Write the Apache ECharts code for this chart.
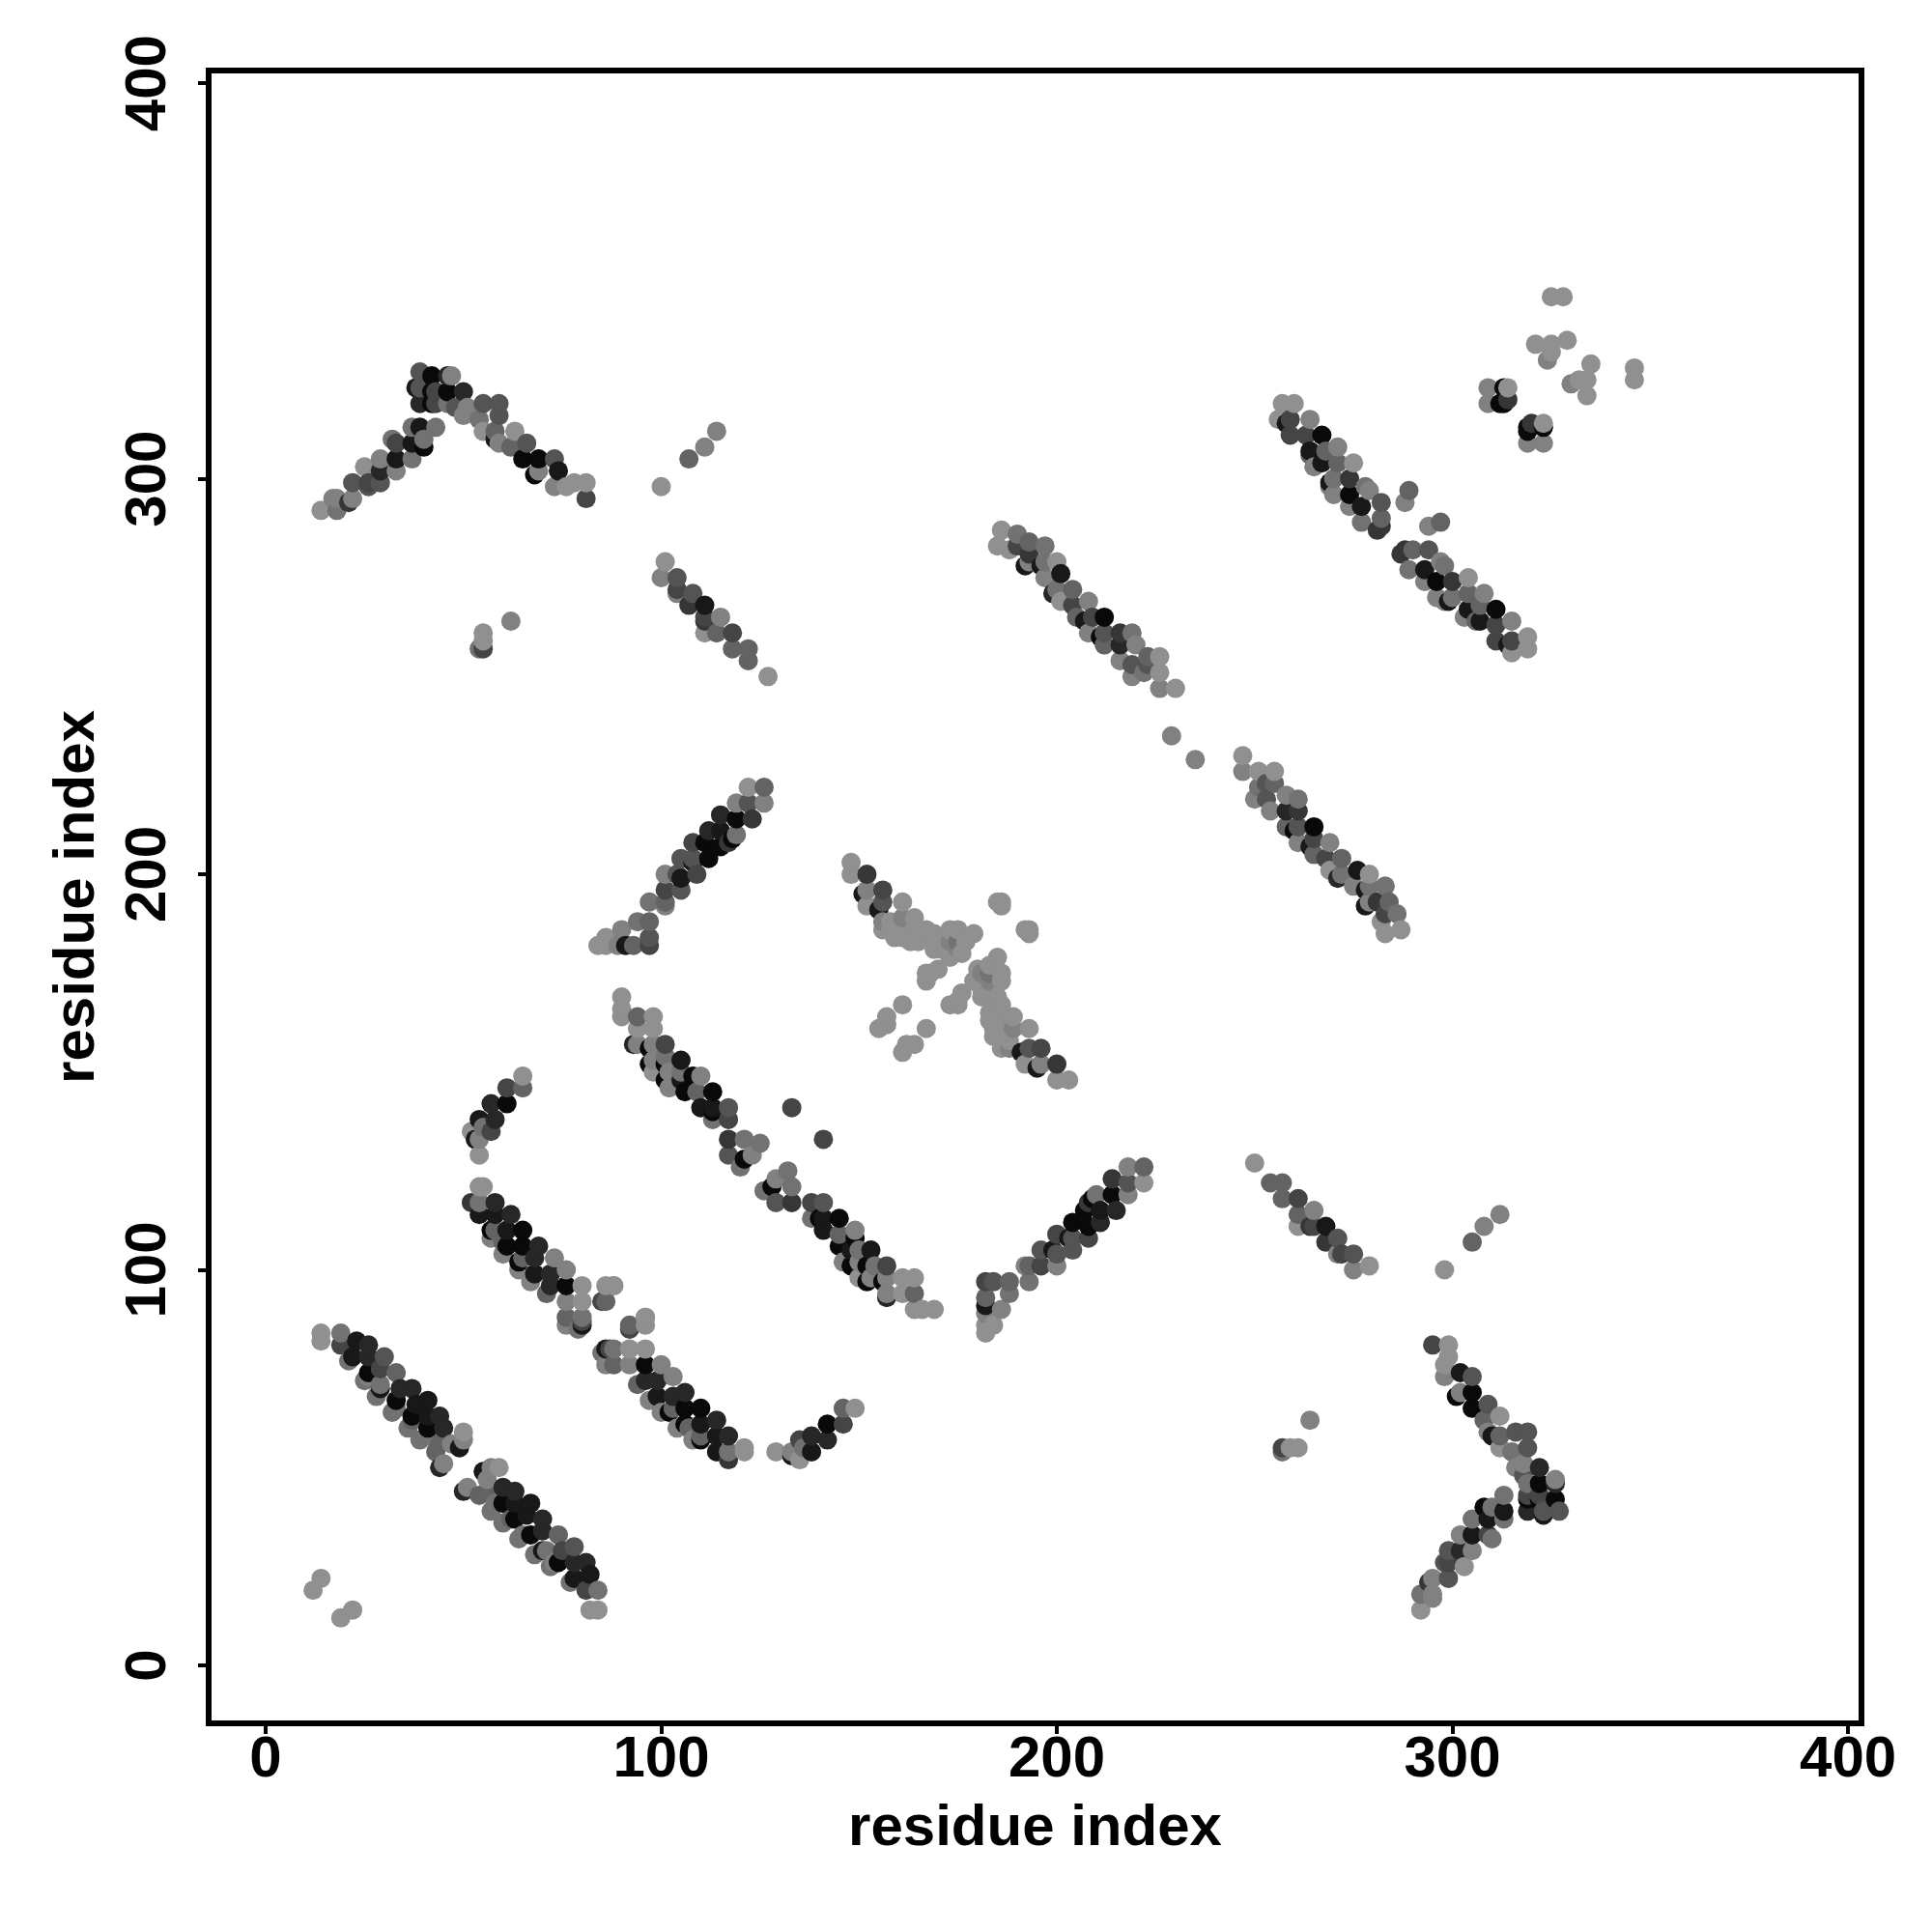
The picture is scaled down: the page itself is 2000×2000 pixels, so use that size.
<!DOCTYPE html>
<html>
<head>
<meta charset="utf-8">
<style>html,body{margin:0;padding:0;background:#fff}#c{width:2000px;height:2000px}</style>
<script src="https://cdn.jsdelivr.net/npm/echarts@6/dist/echarts.min.js"></script>
</head>
<body>
<div id="c"></div>
<script>
// Residue contact pairs [i, j, strength 0..9]. The contact map is symmetric,
// so each contact (i,j) is also drawn as (j,i).
var tickValues = [0, 100, 200, 300, 400];
var axisTitle = 'residue index';
var endsA = [[12,19,0],[14,22,0]];
var bandA = [[14,84,0],[14,82,0],[19,84,2],[19,81,5],[23,82,8],[22,78,8],[26,81,7],[26,78,7],[30,78,4],[29,75,5],[26,73,1],[26,74,9],[33,74,3],[29,71,2],[29,70,8],[34,70,7],[37,70,7],[33,67,9],[33,65,2],[41,67,8],[38,66,8],[37,62,3],[37,63,9],[41,63,8],[41,60,9],[41,58,2],[44,63,7],[45,60,7],[44,56,3],[47,56,1],[50,59,0],[50,57,1],[49,55,8],[44,50,7],[45,51,1]];
var edgeA = [[21,77,2],[25,72,2],[28,68,2],[32,64,2],[36,60,2],[39,57,2],[43,54,3]];
var bandH = [[65,149,0],[65,146,3],[61,146,5],[61,142,9],[57,142,7],[58,138,7],[54,138,8],[57,135,5],[52,135,0],[54,133,1],[53,133,8],[54,129,0],[55,136,2]];
var bandB = [[54,121,0],[55,121,0],[54,117,2],[52,117,6],[58,117,7],[54,114,8],[58,114,8],[62,114,7],[57,110,9],[58,110,3],[61,110,8],[65,110,9],[61,106,9],[60,107,3],[65,106,9],[69,106,7],[65,103,3],[64,102,9],[68,103,7],[68,99,8],[73,103,1],[72,99,7],[76,100,1],[72,96,7],[76,96,9],[80,96,0],[76,92,1],[80,92,0],[76,88,3],[76,86,1],[80,88,2],[79,85,2],[80,86,8],[80,87,5],[86,96,0],[88,96,0],[86,92,3],[85,92,5],[88,96,0]];
var edgeB = [[57,108,1],[60,104,1],[64,100,1],[67,97,1],[71,94,3]];
var bandC = [[90,169,0],[90,166,0],[90,164,0],[94,164,3],[98,164,0],[94,161,0],[98,161,0],[94,157,1],[93,157,7],[98,157,1],[97,156,9],[101,157,5],[98,153,1],[97,152,9],[101,154,2],[101,152,9],[105,153,8],[98,150,0],[102,150,1],[101,148,9],[105,150,2],[105,148,8],[110,149,1],[108,149,9],[102,146,1],[106,145,9],[109,145,3],[113,145,9],[110,141,8],[113,141,8],[113,140,9],[113,138,2],[117,141,4],[117,138,5],[117,133,6],[117,129,4],[121,133,2],[125,132,2],[121,128,9],[123,129,1],[120,126,2],[133,141,5]];
var bandD = [[148,203,0],[148,200,0],[152,200,6],[152,196,1],[151,195,8],[156,196,5],[152,192,0],[156,193,4],[155,191,8],[161,193,0],[156,188,1],[156,186,0],[161,189,1],[164,189,0],[158,186,0],[161,186,0],[161,184,0],[163,183,0],[164,186,0],[167,186,0],[169,185,0],[173,186,0],[175,186,0],[179,185,0],[173,183,1],[175,181,1],[177,183,0],[173,179,0],[175,183,2],[169,183,0],[169,181,0],[171,183,0],[170,176,0],[167,175,0],[167,173,0],[168,175,0],[185,193,0],[186,193,0],[186,192,0],[155,161,0],[157,164,0],[157,162,0],[161,167,0],[158,188,0],[159,184,0],[165,183,0],[171,181,0],[167,184,0],[176,180,0]];
var bandE = [[186,287,0],[185,283,0],[190,286,2],[188,282,0],[190,283,5],[193,284,3],[197,283,2],[193,281,6],[193,279,1],[192,278,8],[197,279,2],[196,278,8],[200,279,0],[201,276,8],[197,275,1],[200,272,2],[199,271,7],[204,272,3],[201,269,0],[208,269,1],[204,268,5],[205,265,3],[209,265,5],[207,264,8],[212,265,9],[208,261,1],[212,261,4],[211,260,9],[216,261,6],[219,261,2],[212,258,3],[216,258,7],[220,258,1],[216,254,1],[219,253,4],[219,250,1],[223,255,3],[226,255,0],[222,251,2],[223,253,4],[226,251,0],[226,247,1],[230,247,0],[229,235,1]];
var bandF = [[257,319,0],[260,319,0],[256,315,0],[259,315,5],[258,314,8],[264,315,1],[259,311,5],[263,311,5],[267,311,9],[264,307,8],[264,306,3],[268,307,3],[271,308,1],[267,304,8],[271,304,3],[275,304,0],[270,300,2],[269,299,8],[274,300,6],[278,298,2],[270,296,1],[274,296,9],[279,297,1],[274,293,1],[277,293,8],[282,294,4],[277,289,2],[282,290,3],[281,287,6],[282,288,6],[289,297,3],[288,294,1],[265,303,1],[269,298,1]];
var bandK = [[54,257,2],[55,257,5],[55,259,0],[55,261,0],[62,264,1]];
var bandI = [[100,298,0],[107,305,3],[111,308,1],[114,312,1]];
var bandJ = [[127,250,0],[122,254,3],[122,257,3],[118,257,3],[118,261,5],[115,265,1],[114,261,3],[111,261,0],[111,264,6],[111,265,5],[111,268,8],[107,268,6],[108,271,4],[104,271,1],[104,272,5],[104,275,4],[100,275,1],[101,279,0]];
var bandG = [[126,222,3],[126,218,1],[122,222,0],[122,218,4],[119,218,1],[123,214,6],[119,214,9],[119,210,2],[118,209,9],[115,215,7],[115,207,9],[115,211,8],[117,208,6],[112,211,7],[111,208,9],[112,204,9],[108,208,5],[108,204,4],[109,200,5],[108,203,8],[105,204,4],[104,200,4],[105,196,4],[105,199,8],[101,200,1],[101,196,5],[101,192,1],[101,193,3],[97,193,2],[97,188,3],[97,184,4],[97,182,5],[94,188,2],[93,182,3],[90,186,1],[91,182,8],[89,182,1],[86,184,0],[86,182,0],[84,182,0]];
var bandZ = [[14,292,0],[18,292,2],[17,295,1],[18,295,1],[22,295,1],[21,294,6],[22,299,4],[26,299,5],[25,303,0],[26,298,4],[29,299,4],[29,305,1],[29,302,7],[33,302,1],[33,305,8],[37,305,2],[32,310,2],[33,309,5],[37,309,8],[40,308,9],[40,310,2],[39,313,8],[43,313,2],[37,313,2],[39,327,4],[39,323,4],[38,323,8],[39,319,7],[42,326,9],[43,322,5],[42,322,9],[43,319,5],[42,319,9],[47,326,1],[46,326,7],[46,322,9],[46,319,2],[50,322,7],[48,318,4],[51,318,1],[50,316,1],[55,319,4],[59,319,4],[54,315,2],[59,316,4],[55,312,0],[58,312,3],[58,310,8],[59,309,1],[63,312,0],[62,308,3],[66,309,4],[65,305,9],[69,305,9],[73,305,4],[69,302,1],[68,301,9],[74,302,8],[73,298,1],[76,298,0],[78,299,0],[81,299,0],[81,295,5]];
var bandS = [[325,346,0],[328,346,0],[321,334,0],[329,335,0],[325,334,0],[325,332,0],[324,330,1],[309,323,1],[309,319,1],[314,323,0],[313,323,9],[312,319,9],[314,320,6],[313,319,9]];

var allBands = [endsA, bandA, edgeA, bandH, bandB, edgeB, bandC, bandD, bandE, bandF, bandK, bandI, bandJ, bandG, bandZ, bandS];
var points = [];
allBands.forEach(function (band) {
  band.forEach(function (p) {
    points.push([p[0], p[1], p[2]]);
    points.push([p[1], p[0], p[2]]);
  });
});
points.sort(function (a, b) { return a[0] - b[0] || a[1] - b[1]; });

var chart = echarts.init(document.getElementById('c'), null, { renderer: 'canvas' });
var font = '"Liberation Sans", Arial, sans-serif';
function shade(v) { var g = 144 - 15 * v; return 'rgb(' + g + ',' + g + ',' + g + ')'; }
function axis(extra) {
  return Object.assign({
    type: 'value',
    name: axisTitle,
    nameLocation: 'middle',
    nameTextStyle: { fontFamily: font, fontWeight: 'bold', fontSize: 60, color: '#000' },
    splitLine: { show: false },
    axisLine: { show: false, onZero: false },
    axisTick: { show: true, length: 11, lineStyle: { color: '#000', width: 4 }, customValues: tickValues },
    axisLabel: { customValues: tickValues, fontFamily: font, fontWeight: 'bold', fontSize: 60, color: '#000' }
  }, extra);
}
var xa = axis({ min: -14.4, max: 403.4, nameGap: 79 });
xa.axisLabel.margin = 8;
var ya = axis({ min: -14.65, max: 403.2, nameGap: 106 });
ya.axisLabel.margin = 62;
ya.axisLabel.rotate = 90;
ya.axisLabel.verticalAlign = 'middle';
ya.axisLabel.align = 'center';
chart.setOption({
  animation: false,
  backgroundColor: '#fff',
  grid: { left: 216, top: 73, width: 1711, height: 1711, show: true, borderColor: '#000', borderWidth: 6, backgroundColor: 'transparent' },
  xAxis: xa,
  yAxis: ya,
  series: [{
    type: 'scatter',
    data: points,
    symbol: 'circle',
    symbolSize: 20,
    silent: true,
    itemStyle: { opacity: 1, color: function (p) { return shade(p.value[2]); } }
  }]
});
</script>
</body>
</html>
